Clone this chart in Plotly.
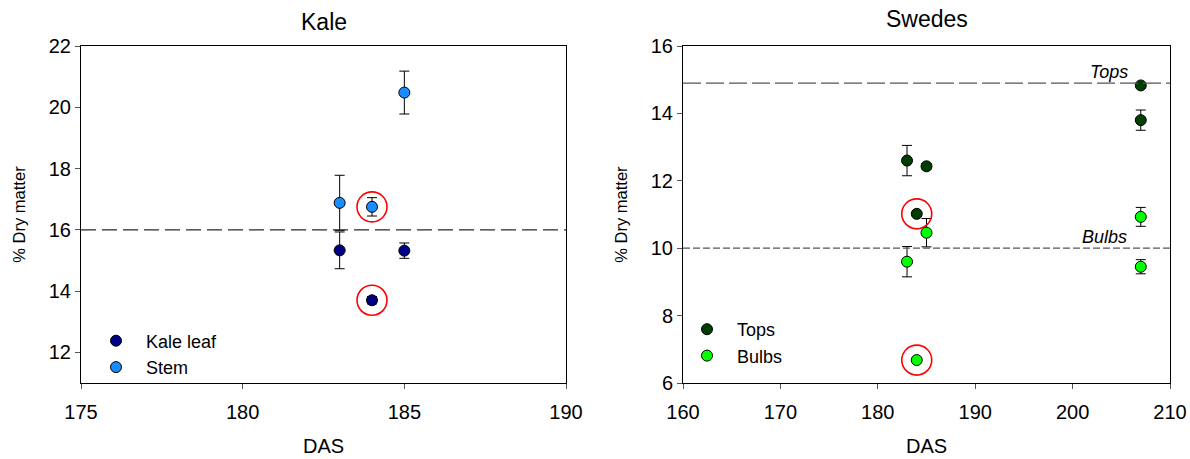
import plotly.graph_objects as go

# ---- data ----
kale_das = [183, 184, 185]
kale_leaf = [15.33, 13.70, 15.32]
kale_leaf_err = [0.60, 0.12, 0.25]
kale_stem = [16.88, 16.75, 20.48]
kale_stem_err = [0.90, 0.30, 0.70]
kale_ref = 16.0

swede_das = [183, 184, 185, 207, 207]
swede_tops = [12.60, 11.02, 12.43, 14.83, 13.80]
swede_tops_err = [0.45, 0.05, 0.08, 0.06, 0.30]
swede_bulbs = [9.60, 6.68, 10.46, 10.93, 9.45]
swede_bulbs_err = [0.45, 0.05, 0.42, 0.28, 0.21]
tops_ref = 14.9
bulbs_ref = 10.0
highlight_das = 184

FONT = "Liberation Sans, Arial, sans-serif"
W, H = 1190, 459

fig = go.Figure()

def pts(x, y, err, name, color, xa, ya, legend):
    fig.add_trace(go.Scatter(
        x=x, y=y, mode="markers", name=name, xaxis=xa, yaxis=ya, legend=legend,
        marker=dict(size=11, color=color, line=dict(color="black", width=1)),
        error_y=dict(type="data", array=err, visible=True, color="black",
                     thickness=1, width=5),
    ))

pts(kale_das, kale_leaf, kale_leaf_err, "Kale leaf", "#000080", "x", "y", "legend")
pts(kale_das, kale_stem, kale_stem_err, "Stem", "#1a8cff", "x", "y", "legend")
pts(swede_das, swede_tops, swede_tops_err, "Tops", "#003d00", "x2", "y2", "legend2")
pts(swede_das, swede_bulbs, swede_bulbs_err, "Bulbs", "#00ff00", "x2", "y2", "legend2")

shapes = []
shapes.append(dict(type="line", xref="x domain", yref="y", x0=0, x1=1, y0=kale_ref, y1=kale_ref,
                   line=dict(color="#2a2a2a", width=1.2, dash="15px,6px")))
shapes.append(dict(type="line", xref="x2 domain", yref="y2", x0=0, x1=1, y0=tops_ref, y1=tops_ref,
                   line=dict(color="#555555", width=1.3, dash="18px,5px")))
shapes.append(dict(type="line", xref="x2 domain", yref="y2", x0=0, x1=1, y0=bulbs_ref, y1=bulbs_ref,
                   line=dict(color="#555555", width=1.3, dash="7px,3px")))

def circ(xv, yv, xr, yr):
    shapes.append(dict(type="circle", xref=xr, yref=yr, xsizemode="pixel", ysizemode="pixel",
                       xanchor=xv, yanchor=yv, x0=-15, x1=15, y0=-15, y1=15,
                       line=dict(color="red", width=1.6)))

for xs, ys, xr, yr in [(kale_das, kale_leaf, "x", "y"), (kale_das, kale_stem, "x", "y"),
                       (swede_das, swede_tops, "x2", "y2"), (swede_das, swede_bulbs, "x2", "y2")]:
    for xv, yv in zip(xs, ys):
        if xv == highlight_das:
            circ(xv, yv, xr, yr)

annotations = [
    dict(text="Kale", x=0.5, y=1 - 22 / H, xref="x domain", yref="paper", yanchor="middle",
         showarrow=False, font=dict(size=23, color="black", family=FONT)),
    dict(text="Swedes", x=0.5, y=1 - 19 / H, xref="x2 domain", yref="paper", yanchor="middle",
         showarrow=False, font=dict(size=23, color="black", family=FONT)),
    dict(text="<i>Tops</i>", x=203.7, y=tops_ref, xref="x2", yref="y2", xanchor="center",
         yanchor="bottom", yshift=-1, showarrow=False, font=dict(size=18, color="black", family=FONT)),
    dict(text="<i>Bulbs</i>", x=203.3, y=bulbs_ref, xref="x2", yref="y2", xanchor="center",
         yanchor="bottom", yshift=-1, showarrow=False, font=dict(size=18, color="black", family=FONT)),
]

axis_common = dict(showline=True, linecolor="black", linewidth=1, mirror=True, ticks="outside",
                   ticklen=5, tickcolor="#555555", showgrid=False, zeroline=False, automargin=False,
                   tickfont=dict(size=20, color="black", family=FONT))

ydom = [1 - 383 / H, 1 - 46 / H]
fig.update_layout(
    width=W, height=H, margin=dict(l=0, r=0, t=0, b=0, autoexpand=False),
    paper_bgcolor="white", plot_bgcolor="white",
    font=dict(family=FONT, color="black"),
    xaxis=dict(domain=[81 / W, 566 / W], range=[175, 190], dtick=5, anchor="y", ticklabelstandoff=6,
               title=dict(text="DAS", font=dict(size=20), standoff=16), **axis_common),
    yaxis=dict(domain=ydom, range=[11, 22], tickvals=[12, 14, 16, 18, 20, 22],
               anchor="x", title=dict(text="% Dry matter", font=dict(size=16.5), standoff=18), **axis_common),
    xaxis2=dict(domain=[683 / W, 1170 / W], range=[160, 210], dtick=10, anchor="y2", ticklabelstandoff=6,
                title=dict(text="DAS", font=dict(size=20), standoff=16), **axis_common),
    yaxis2=dict(domain=ydom, range=[6, 16], dtick=2, anchor="x2",
                title=dict(text="% Dry matter", font=dict(size=16.5), standoff=18), **axis_common),
    legend=dict(x=86 / W, y=1 - 322.5 / H, xanchor="left", yanchor="top", bgcolor="rgba(0,0,0,0)",
                font=dict(size=18, color="black"), itemwidth=50, tracegroupgap=0),
    legend2=dict(x=677 / W, y=1 - 311 / H, xanchor="left", yanchor="top", bgcolor="rgba(0,0,0,0)",
                 font=dict(size=18, color="black"), itemwidth=50, tracegroupgap=0),
    shapes=shapes, annotations=annotations, showlegend=True,
)

fig.write_html("out.html", config={"displayModeBar": False},
               post_script="document.body.style.margin='0';document.body.style.padding='0';")
